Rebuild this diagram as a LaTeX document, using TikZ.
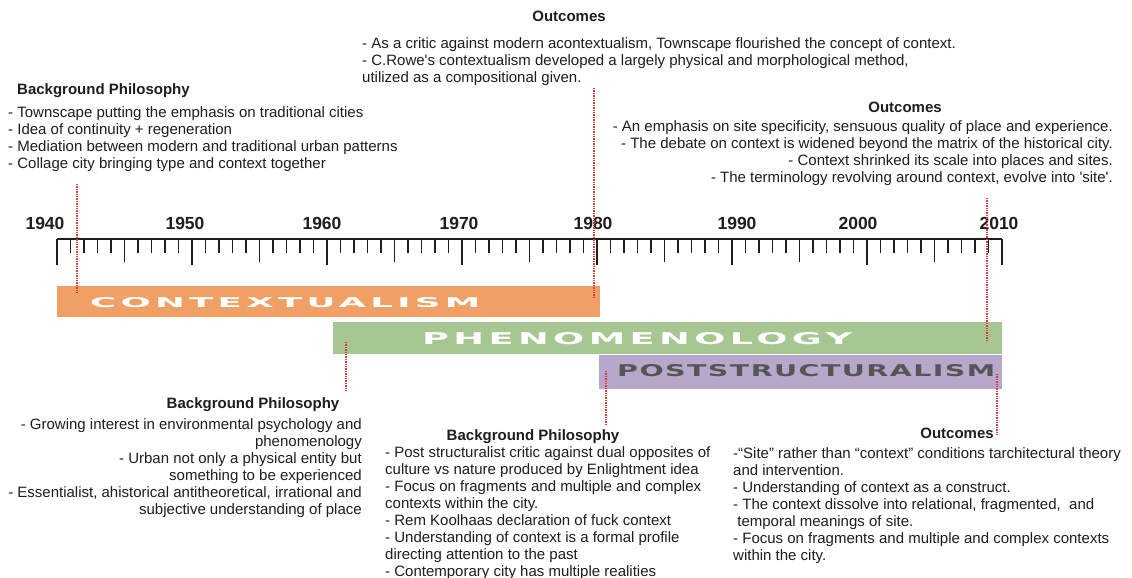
\documentclass[tikz,border=0pt]{standalone}
\usepackage{fontspec}
\setmainfont{Liberation Sans}
\newfontfamily\barfont{DejaVu Sans}
\usepackage{graphicx}
\definecolor{ink}{HTML}{1E1E1E}
\definecolor{ochre}{HTML}{F0A064}
\definecolor{sage}{HTML}{A6C692}
\definecolor{lilac}{HTML}{B7A8CB}
\definecolor{slate}{HTML}{555555}
\definecolor{dotred}{HTML}{E53935}
\tikzset{axis/.style={line width=1.6pt,ink},
yeartick/.style={line width=1.5pt,ink},
leader/.style={dotred,line width=1.6pt,dash pattern=on 1.4pt off 1pt},
yearlab/.style={font=\fontsize{17.5}{18}\selectfont\bfseries,text=ink,inner sep=0pt,anchor=base},
head/.style={font=\fontsize{15}{17}\selectfont\bfseries,text=ink,inner sep=0pt,anchor=base},
note/.style={font=\fontsize{15}{17}\selectfont,text=ink,inner sep=0pt},
barlab/.style={inner sep=0pt,anchor=west}}
\newcommand{\barword}[4]{\resizebox{#1pt}{#2pt}{\barfont\bfseries\addfontfeature{LetterSpace=#3}#4}}

\begin{document}
\begin{tikzpicture}[x=1pt,y=-1pt]
\useasboundingbox[fill=white] (0,0) rectangle (1132,578);
\draw[axis] (57,239) -- (1002,239);
\foreach \n in {0,...,70}{
  \pgfmathtruncatemacro\r{mod(\n,10)}
  \pgfmathtruncatemacro\h{mod(\n,5)}
  \ifnum\r=0 \def\len{26}\else\ifnum\h=0 \def\len{23}\else\def\len{14}\fi\fi
  \draw[yeartick] (57+13.5*\n,239) -- ++(0,\len);
}
\foreach \yr/\px in {1940/45,1950/185,1960/322,1970/459,1980/593,1990/737,2000/858,2010/999}
  \node[yearlab] (y\yr) at (\px,229) {\yr};
\fill[ochre] (57,286) rectangle (600,317);
\fill[sage] (333,322) rectangle (1002,354);
\fill[lilac] (599,355) rectangle (1002,389);
\node[barlab,text=white] (ctxlab) at (90,303) {\barword{390}{10}{12}{CONTEXTUALISM}};
\node[barlab,text=white] (phenlab) at (422,339) {\barword{430}{12}{12}{PHENOMENOLOGY}};
\node[barlab,text=slate] (postlab) at (617,371) {\barword{378}{12}{5}{POSTSTRUCTURALISM}};
\foreach \i/\x/\ya/\yb in {a/77/184/293,b/594/88/298,c/987/198/342,d/346/342/391,e/606/371/426,f/997/374/436}{
  \coordinate (\i top) at (\x,\ya);
  \coordinate (\i bot) at (\x,\yb);
  \draw[leader] (\i top) -- (\i bot);
}
\node[head] (outA) at (569,22) {Outcomes};
\node[note,anchor=base west,align=left] (txtA) at (362,82) {- As a critic against modern acontextualism, Townscape flourished the concept of context.\\- C.Rowe\textquotesingle s contextualism developed a largely physical and morphological method,\\utilized as a compositional given.};
\node[head,anchor=base west] (bgB) at (17,94) {Background Philosophy};
\node[note,anchor=base west,align=left] (txtB) at (8,168) {- Townscape putting the emphasis on traditional cities\\- Idea of continuity + regeneration\\- Mediation between modern and traditional urban patterns\\- Collage city bringing type and context together};
\node[head] (outC) at (905,112) {Outcomes};
\node[note,anchor=base east,align=right] (txtC) at (1113,182) {- An emphasis on site specificity, sensuous quality of place and experience.\\- The debate on context is widened beyond the matrix of the historical city.\\- Context shrinked its scale into places and sites.\\- The terminology revolving around context, evolve into \textquotesingle site\textquotesingle.};
\node[head] (bgD) at (253,408) {Background Philosophy};
\node[note,anchor=base east,align=right] (txtD) at (362,514) {- Growing interest in environmental psychology and\\phenomenology\\- Urban not only a physical entity but\\something to be experienced\\- Essentialist, ahistorical antitheoretical, irrational and\\subjective understanding of place};
\node[head] (bgE) at (533,440) {Background Philosophy};
\node[note,anchor=base west,align=left] (txtE) at (385,576) {- Post structuralist critic against dual opposites of\\culture vs nature produced by Enlightment idea\\- Focus on fragments and multiple and complex\\contexts within the city.\\- Rem Koolhaas declaration of fuck context\\- Understanding of context is a formal profile\\directing attention to the past\\- Contemporary city has multiple realities};
\node[head] (outF) at (957,438) {Outcomes};
\node[note,anchor=base west,align=left] (txtF) at (733,560) {-“Site” rather than “context” conditions tarchitectural theory\\and intervention.\\- Understanding of context as a construct.\\- The context dissolve into relational, fragmented,~ and\\\ temporal meanings of site.\\- Focus on fragments and multiple and complex contexts\\within the city.};
\end{tikzpicture}
\end{document}
